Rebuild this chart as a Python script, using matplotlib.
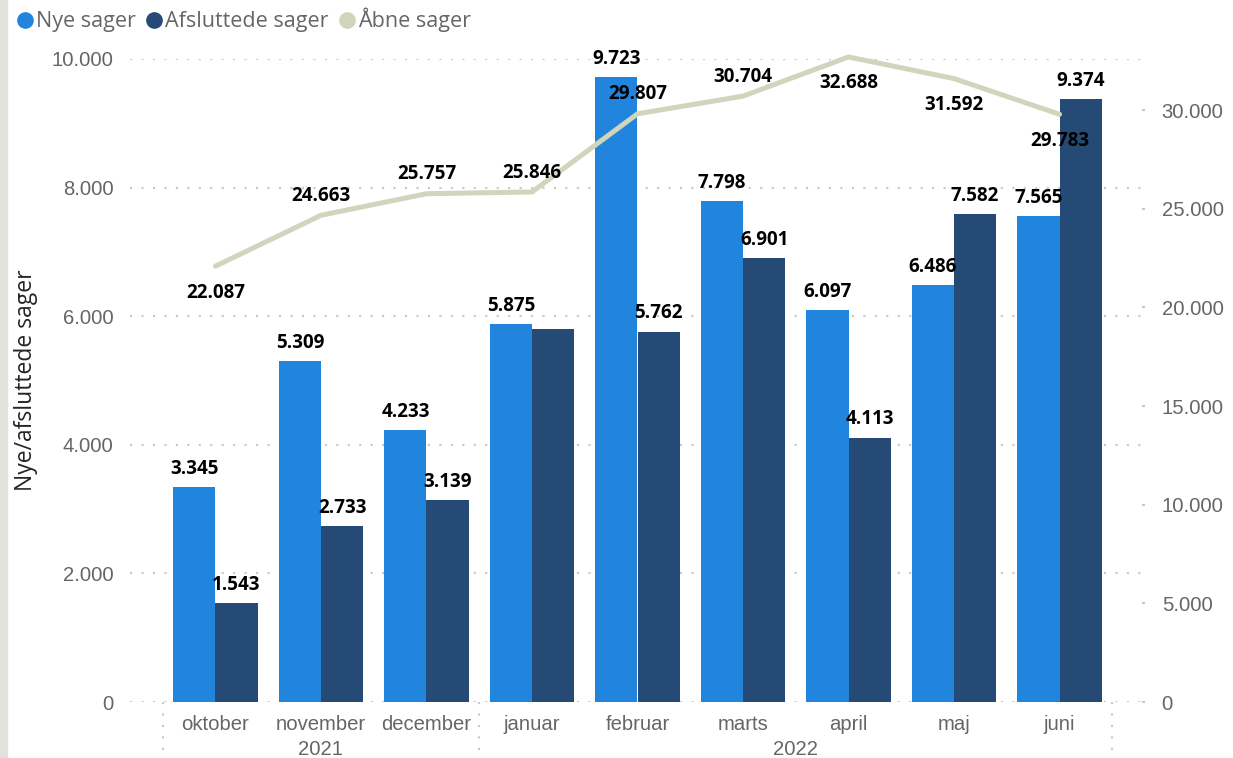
import matplotlib
matplotlib.use("Agg")
import matplotlib.pyplot as plt
import numpy as np
from matplotlib.lines import Line2D
from matplotlib.patches import Rectangle
import matplotlib.transforms as mtransforms

months = ["oktober", "november", "december", "januar", "februar", "marts", "april", "maj", "juni"]
years = ["2021", "2022"]
year_spans = [(0, 2), (3, 8)]
nye = [3345, 5309, 4233, 5875, 9723, 7798, 6097, 6486, 7565]
afsluttede = [1543, 2733, 3139, 5800, 5762, 6901, 4113, 7582, 9374]
aabne = [22087, 24663, 25757, 25846, 29807, 30704, 32688, 31592, 29783]
afsl_show_label = [True, True, True, False, True, True, True, True, True]
aabne_label_above = [False, True, True, True, True, True, False, False, False]
left_ticks = [0, 2000, 4000, 6000, 8000, 10000]
right_ticks = [0, 5000, 10000, 15000, 20000, 25000, 30000]

C_NYE = "#2185DD"
C_AFS = "#244A75"
C_AAB = "#D1D5BC"
GRID = "#C8C8C8"
TICK_C = "#666666"

def fmt(v):
    return f"{v:,}".replace(",", ".")

W, H = 1233, 758
fig = plt.figure(figsize=(W / 100, H / 100), dpi=100)
fig.patches.append(Rectangle((0, 0), 7 / W, 1, transform=fig.transFigure,
                             color="#E1E2DA", zorder=0))

ax = fig.add_axes([130 / W, 56 / H, 1015 / W, 643 / H])
ax.set_xlim(-0.81, 8.81)
ax.set_ylim(0, 10000)
ax2 = ax.twinx()
ax2.set_ylim(0, 30000 * 643 / 592)

x = np.arange(len(months))
ax.bar(x - 0.2, nye, 0.4, color=C_NYE, zorder=2)
ax.bar(x + 0.2, afsluttede, 0.4, color=C_AFS, zorder=2)
ax2.plot(x, aabne, color=C_AAB, lw=3.6, solid_capstyle="round",
         solid_joinstyle="round", clip_on=False, zorder=3)

for a in (ax, ax2):
    for s in a.spines.values():
        s.set_visible(False)

TFS = 14.6
ax.set_yticks(left_ticks)
ax.set_yticklabels([fmt(v) for v in left_ticks], fontfamily="Liberation Sans",
                   fontsize=TFS, color=TICK_C)
ax.tick_params(axis="y", length=0, pad=12)
ax.yaxis.grid(True, color=GRID, lw=1.5, linestyle=(0, (1, 4.5)))
ax.set_axisbelow(True)

ax2.set_yticks(right_ticks)
ax2.set_yticklabels([fmt(v) for v in right_ticks], fontfamily="Liberation Sans",
                    fontsize=TFS, color=TICK_C)
ax2.tick_params(axis="y", length=2, width=1.5, color=GRID, direction="in", pad=12)

ax.set_xticks(x)
ax.set_xticklabels(months, fontfamily="Liberation Sans", fontsize=TFS, color=TICK_C)
ax.tick_params(axis="x", length=0, pad=9)

blend = mtransforms.blended_transform_factory(ax.transData, ax.transAxes)
for (a, b), yr in zip(year_spans, years):
    ax.annotate(yr, xy=((a + b) / 2, 0), xycoords=blend, xytext=(0, -34),
                textcoords="offset points", ha="center", va="center",
                fontfamily="Liberation Sans", fontsize=TFS, color=TICK_C)
for xs in [year_spans[0][0] - 0.5, year_spans[1][0] - 0.5, year_spans[1][1] + 0.5]:
    ax.add_line(Line2D([xs, xs], [0, -56 / 643], transform=blend, color=GRID,
                       lw=1.5, linestyle=(0, (1, 4.5)), clip_on=False))

ax.set_ylabel("Nye/afsluttede sager", fontfamily="Open Sans", fontsize=16.5,
              color="#252423", labelpad=10)

lab_kw = dict(fontfamily="Open Sans", fontweight="bold", fontsize=13.5,
              color="black", ha="center", va="center", zorder=10,
              annotation_clip=False)
for i in range(len(months)):
    ax2.annotate(fmt(nye[i]), xy=(x[i] - 0.2, nye[i]), xycoords=ax.transData,
                 xytext=(0, 13), textcoords="offset points", **lab_kw)
    if afsl_show_label[i]:
        ax2.annotate(fmt(afsluttede[i]), xy=(x[i] + 0.2, afsluttede[i]),
                     xycoords=ax.transData, xytext=(0, 13),
                     textcoords="offset points", **lab_kw)
    dy = 14 if aabne_label_above[i] else -19
    ax2.annotate(fmt(aabne[i]), xy=(x[i], aabne[i]), xycoords=ax2.transData,
                 xytext=(0, dy), textcoords="offset points", **lab_kw)

handles = [Line2D([], [], marker="o", ls="", markersize=11, color=c)
           for c in (C_NYE, C_AFS, C_AAB)]
leg = fig.legend(handles, ["Nye sager", "Afsluttede sager", "Åbne sager"],
                 loc="center left", bbox_to_anchor=(19 / W, 1 - 20 / H), ncol=3,
                 frameon=False, handlelength=0.6, handletextpad=0.2,
                 columnspacing=0.55, borderaxespad=0, borderpad=0,
                 prop={"family": "Open Sans", "size": 15.5})
for t in leg.get_texts():
    t.set_color(TICK_C)

fig.savefig("out.png", dpi=100)
